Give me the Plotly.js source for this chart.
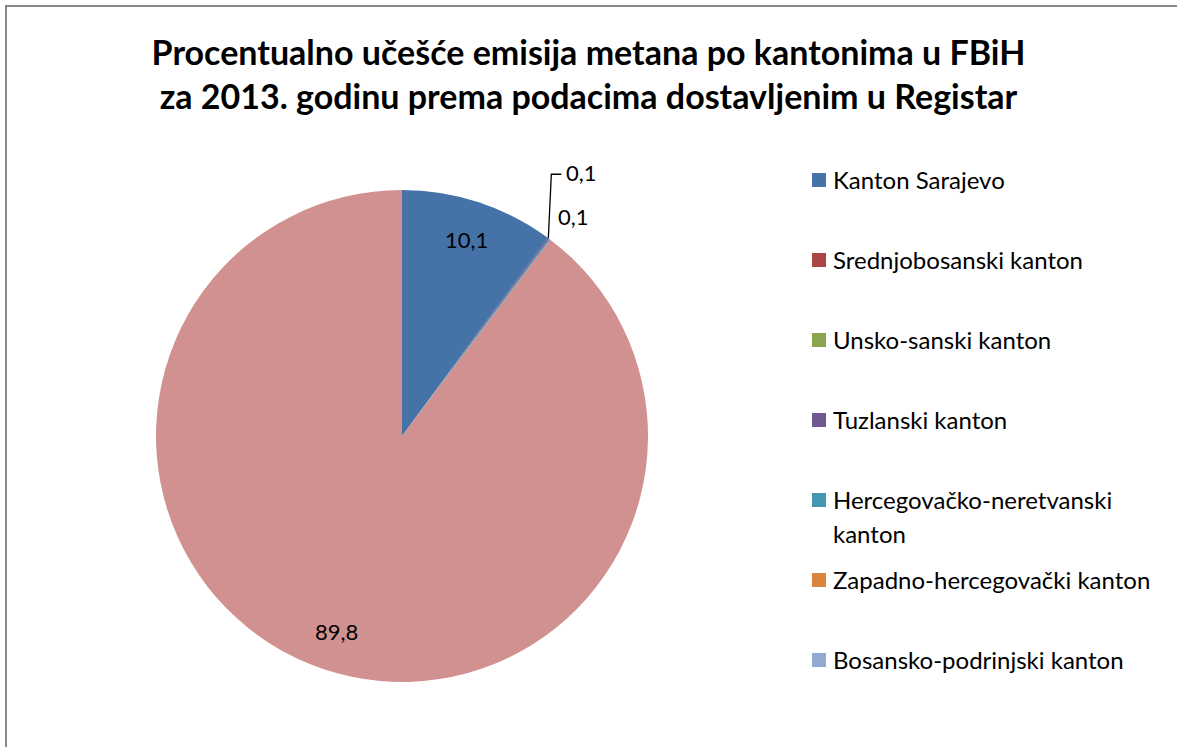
<!DOCTYPE html>
<html>
<head>
<meta charset="utf-8">
<script src="https://cdn.plot.ly/plotly-3.0.1.min.js"></script>
<style>html,body{margin:0;padding:0;background:#fff;}#chart{width:1177px;height:747px;}</style>
</head>
<body>
<div id="chart"></div>
<script>
// ---- data ----
const categories = ['Kanton Sarajevo', 'Srednjobosanski kanton', 'Unsko-sanski kanton', 'Tuzlanski kanton',
  'Hercegovačko-neretvanski kanton', 'Zapadno-hercegovački kanton', 'Bosansko-podrinjski kanton', 'Zeničko-dobojski kanton'];
const values = [10.1, 0, 0, 0.1, 0.1, 0, 0, 89.8];
const valueLabels = ['10,1', '', '', '0,1', '0,1', '', '', '89,8'];
const legendLabels = ['Kanton Sarajevo', 'Srednjobosanski kanton', 'Unsko-sanski kanton', 'Tuzlanski kanton',
  'Hercegovačko-neretvanski\nkanton', 'Zapadno-hercegovački kanton', 'Bosansko-podrinjski kanton'];
const colors = ['#4572A7', '#AA4643', '#89A54E', '#71588F', '#4198AF', '#DB843D', '#93A9CF', '#D29191'];
const titleText = '<b>Procentualno učešće emisija metana po kantonima u FBiH<br>za 2013. godinu prema podacima dostavljenim u Registar</b>';

// ---- layout geometry ----
const W = 1177, H = 747;
const cx = 402, cy = 436, R = 246;
const px = x => x / W;
const py = y => 1 - y / H;
const FONT = 'Lato, "Open Sans", sans-serif';

const trace = {
  type: 'pie',
  labels: categories,
  values: values,
  sort: false,
  direction: 'clockwise',
  rotation: 0,
  textinfo: 'none',
  hoverinfo: 'label+value',
  marker: {colors: colors, line: {width: 0}},
  domain: {x: [px(cx - R), px(cx + R)], y: [py(cy + R), py(cy - R)]},
  showlegend: false
};

const annotations = [];
const shapes = [];

// value labels computed from the data (Excel-style "best fit")
const total = values.reduce((a, b) => a + b, 0);
let cum = 0;
let smallCount = 0;
values.forEach((v, i) => {
  const a0 = cum / total * 2 * Math.PI;
  cum += v;
  const a1 = cum / total * 2 * Math.PI;
  if (!valueLabels[i]) return;
  if (v / total > 0.02) {
    const am = (a0 + a1) / 2;
    const r = 0.84 * R;
    annotations.push({
      x: px(cx + r * Math.sin(am)), y: py(cy - r * Math.cos(am)), xref: 'paper', yref: 'paper',
      text: valueLabels[i], showarrow: false, xanchor: 'center', yanchor: 'middle',
      font: {family: FONT, size: 22, color: '#000'}
    });
  } else {
    const am = (a0 + a1) / 2;
    const ex = cx + R * Math.sin(am), ey = cy - R * Math.cos(am);
    if (smallCount === 0) {
      // label with leader line
      shapes.push({type: 'path', xref: 'paper', yref: 'paper',
        path: `M ${px(ex)} ${py(ey)} L ${px(ex + 3)} ${py(ey - 64)} L ${px(ex + 13)} ${py(ey - 64)}`,
        line: {color: '#000', width: 1.3}});
      annotations.push({x: px(ex + 16), y: py(ey - 66), xref: 'paper', yref: 'paper',
        text: valueLabels[i], showarrow: false, xanchor: 'left', yanchor: 'middle',
        font: {family: FONT, size: 22, color: '#000'}});
    } else {
      annotations.push({x: px(ex + 6), y: py(ey - 23), xref: 'paper', yref: 'paper',
        text: valueLabels[i], showarrow: false, xanchor: 'left', yanchor: 'middle',
        font: {family: FONT, size: 22, color: '#000'}});
    }
    smallCount++;
  }
});

// custom legend (only first seven categories, as in the original)
const legX = 812, legY0 = 180, legStep = 80, sq = 14, lineH = 34;
legendLabels.forEach((lab, i) => {
  const yc = legY0 + i * legStep;
  shapes.push({type: 'rect', xref: 'paper', yref: 'paper',
    x0: px(legX), x1: px(legX + sq), y0: py(yc + sq / 2), y1: py(yc - sq / 2),
    fillcolor: colors[i], line: {width: 0}});
  lab.split('\n').forEach((ln, k) => {
    annotations.push({x: px(legX + 19), y: py(yc - 1 + k * lineH), xref: 'paper', yref: 'paper',
      text: ln, showarrow: false, xanchor: 'left', yanchor: 'middle',
      font: {family: FONT, size: 24, color: '#000'}});
  });
});

// chart-area border
shapes.push({type: 'rect', xref: 'paper', yref: 'paper', layer: 'above',
  x0: px(6), x1: px(W + 10), y0: py(H + 10), y1: py(6),
  line: {color: '#878787', width: 2}, fillcolor: 'rgba(0,0,0,0)'});

const layout = {
  width: W, height: H,
  margin: {l: 0, r: 0, t: 0, b: 0},
  paper_bgcolor: '#fff',
  title: {text: titleText, x: 0.5, xref: 'container', xanchor: 'center',
    y: py(65), yref: 'container', yanchor: 'top',
    font: {family: FONT, size: 34, color: '#000'}},
  annotations: annotations,
  shapes: shapes
};

Plotly.newPlot('chart', [trace], layout, {displayModeBar: false, staticPlot: true});
</script>
</body>
</html>
